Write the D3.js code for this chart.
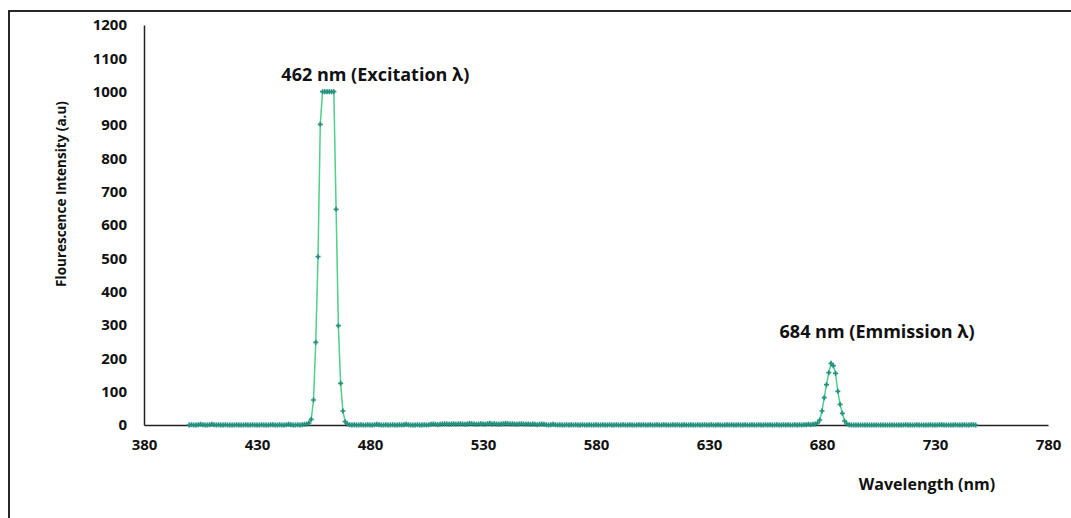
<!DOCTYPE html>
<html>
<head>
<meta charset="utf-8">
<script src="https://cdn.jsdelivr.net/npm/d3@7"></script>
<style>
  body { margin: 0; background: #fff; }
  svg { display: block; font-family: "Open Sans", "Noto Sans", sans-serif; font-weight: bold; }
</style>
</head>
<body>
<svg id="chart" width="1071" height="518"></svg>
<script>
// Wavelength steps (nm), one reading per nm from 400 to 748
var startNm = 400;
var intensity = [
  0,1,0,0,1,2,1,0,0,1,        // 400
  2,1,0,1,0,0,1,0,0,0,        // 410
  0,1,0,0,0,1,0,0,1,0,        // 420
  0,0,1,0,0,0,1,1,0,0,        // 430
  1,0,0,1,2,1,0,0,1,0,        // 440
  1,2,3,6,17,75,248,505,902,1000,       // 450
  1000,1000,1000,1000,1000,647,298,125,42,10, // 460
  3,1,0,1,0,0,1,0,0,1,        // 470
  0,0,1,2,1,0,0,1,0,0,        // 480
  1,0,0,1,0,1,2,1,0,0,        // 490
  0,1,0,0,1,0,1,2,3,2,        // 500
  1,2,3,4,3,2,3,4,2,3,        // 510
  4,3,2,3,5,4,3,2,3,4,        // 520
  3,2,4,5,3,4,3,2,3,4,        // 530
  5,4,3,4,3,2,3,4,3,2,        // 540
  3,2,3,2,1,2,3,2,1,0,        // 550
  1,2,1,0,1,0,0,1,0,1,        // 560
  0,1,0,0,1,0,0,1,0,0,        // 570
  1,0,0,1,0,0,1,0,0,1,        // 580
  0,0,1,0,0,1,0,0,0,1,        // 590
  0,1,0,0,1,0,0,1,0,0,        // 600
  1,0,0,0,1,0,1,0,0,1,        // 610
  0,0,1,0,0,1,0,0,1,0,        // 620
  0,1,0,0,1,0,0,0,1,0,        // 630
  1,0,0,1,0,0,1,0,0,1,        // 640
  0,0,1,0,0,1,0,1,0,0,        // 650
  1,0,0,1,0,1,0,0,1,0,        // 660
  1,0,1,1,2,1,2,3,6,15,       // 670
  42,82,121,157,185,178,155,101,62,35, // 680
  12,3,1,0,0,0,0,0,0,0,       // 690
  0,0,0,0,0,0,0,0,0,0,        // 700
  0,0,0,0,0,0,0,1,0,0,        // 710
  0,0,1,0,0,0,0,0,1,0,        // 720
  0,0,1,1,0,0,0,0,0,1,        // 730
  0,0,0,1,0,0,1,1,0           // 740
];

var xTicks = [380, 430, 480, 530, 580, 630, 680, 730, 780];
var yTicks = [0, 100, 200, 300, 400, 500, 600, 700, 800, 900, 1000, 1100, 1200];

// peak notes: text, wavelength and the intensity level the label sits at
var peakLabels = [
  { text: "462 nm (Excitation \u03bb)", nm: 462, level: 1033 },
  { text: "684 nm (Emmission \u03bb)", nm: 684, level: 262 }
];

var data = intensity.map((v, i) => ({ nm: startNm + i, v: v }));

var svg = d3.select("#chart");

// outer frame (only top and left edges fall inside the picture)
svg.append("rect")
  .attr("x", 9).attr("y", 11)
  .attr("width", 1100).attr("height", 600)
  .attr("fill", "none")
  .attr("stroke", "#111")
  .attr("stroke-width", 1.8);

var x = d3.scaleLinear().domain([380, 780]).range([144, 1048]);
var y = d3.scaleLinear().domain([0, 1200]).range([425, 25]);

// axes, no tick marks
var xAxis = svg.append("g")
  .attr("transform", "translate(0," + y(0) + ")")
  .call(d3.axisBottom(x).tickValues(xTicks).tickSize(0).tickPadding(14).tickFormat(d3.format("d")));
xAxis.select(".domain").attr("stroke", "#222").attr("stroke-width", 1.5);
xAxis.selectAll("text")
  .attr("font-size", 15).attr("font-weight", "bold")
  .attr("font-family", "Open Sans, sans-serif").attr("fill", "#111");

var yAxis = svg.append("g")
  .attr("transform", "translate(" + x(380) + ",0)")
  .call(d3.axisLeft(y).tickValues(yTicks).tickSize(0).tickPadding(17).tickFormat(d3.format("d")));
yAxis.select(".domain").attr("stroke", "#222").attr("stroke-width", 1.5);
yAxis.selectAll("text")
  .attr("font-size", 15).attr("font-weight", "bold")
  .attr("font-family", "Open Sans, sans-serif").attr("fill", "#111");

// spectrum line
var line = d3.line().x(d => x(d.nm)).y(d => y(d.v));
svg.append("path")
  .datum(data)
  .attr("fill", "none")
  .attr("stroke", "#4fd08b")
  .attr("stroke-width", 1.5)
  .attr("d", line);

// point markers
svg.append("g").selectAll("path")
  .data(data)
  .join("path")
  .attr("transform", d => "translate(" + x(d.nm) + "," + y(d.v) + ")")
  .attr("d", d3.symbol().type(d3.symbolCross).size(14))
  .attr("fill", "#23917e");

// peak annotations
svg.append("g").selectAll("text")
  .data(peakLabels)
  .join("text")
  .attr("x", d => x(d.nm) + 46)
  .attr("y", d => y(d.level))
  .attr("text-anchor", "middle")
  .attr("font-size", 18)
  .attr("fill", "#111")
  .text(d => d.text);

// axis titles
svg.append("text")
  .attr("x", 927).attr("y", 490)
  .attr("text-anchor", "middle")
  .attr("font-size", 16)
  .attr("fill", "#111")
  .text("Wavelength (nm)");

svg.append("text")
  .attr("transform", "translate(66,194) rotate(-90)")
  .attr("text-anchor", "middle")
  .attr("font-size", 13.5)
  .attr("fill", "#111")
  .text("Flourescence Intensity (a.u)");
</script>
</body>
</html>
